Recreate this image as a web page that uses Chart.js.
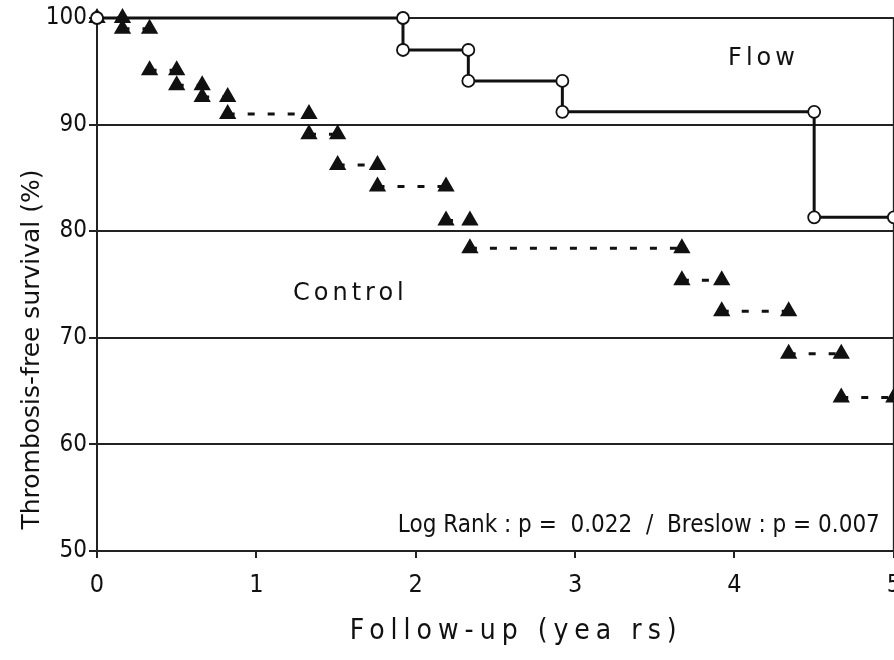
<!DOCTYPE html>
<html>
<head>
<meta charset="utf-8">
<script src="https://cdn.jsdelivr.net/npm/chart.js@4.4.0/dist/chart.umd.min.js"></script>
<style>
html, body { margin: 0; padding: 0; background: #fff; overflow: hidden; }
#caja { width: 913px; height: 660px; }
</style>
</head>
<body>
<div id="caja"><canvas id="grafico"></canvas></div>
<script>
// step vertices (years, % thrombosis-free)
var flowYears = [0, 1.92, 1.92, 2.33, 2.33, 2.92, 2.92, 4.50, 4.50, 5.0];
var flowSurv  = [100, 100, 97.0, 97.0, 94.1, 94.1, 91.2, 91.2, 81.3, 81.3];

var controlYears = [0, 0.16, 0.16, 0.33, 0.33, 0.50, 0.50, 0.66, 0.66, 0.82, 0.82, 1.33, 1.33, 1.51, 1.51,
                    1.76, 1.76, 2.19, 2.19, 2.34, 2.34, 3.67, 3.67, 3.92, 3.92, 4.34, 4.34, 4.67, 4.67, 5.0];
var controlSurv  = [100, 100, 99.0, 99.0, 95.1, 95.1, 93.7, 93.7, 92.6, 92.6, 91.0, 91.0, 89.1, 89.1,
                    86.2, 86.2, 84.2, 84.2, 81.0, 81.0, 78.4, 78.4, 75.4, 75.4, 72.5, 72.5, 68.5, 68.5, 64.4, 64.4];

var yearTicks = [0, 1, 2, 3, 4, 5];
var survTicks = [50, 60, 70, 80, 90, 100];

var tituloX = 'Follow-up (yea rs)';
var tituloY = 'Thrombosis-free survival (%)';
var textoTest = 'Log Rank : p =  0.022  /  Breslow : p = 0.007';

function puntos(xs, ys) {
    return xs.map(function (t, i) { return { x: t, y: ys[i] }; });
}

var fuente = '"DejaVu Sans Condensed", "DejaVu Sans", sans-serif';
var tinta = '#111';

// right frame line + text labels
var notas = {
    id: 'notas',
    beforeDatasetsDraw: function (chart) {
        var a = chart.chartArea, ctx = chart.ctx;
        ctx.save();
        ctx.strokeStyle = '#222';
        ctx.lineWidth = 2;
        ctx.beginPath();
        ctx.moveTo(a.right, a.top);
        ctx.lineTo(a.right, a.bottom);
        ctx.stroke();
        ctx.restore();
    },
    afterDraw: function (chart) {
        var ctx = chart.ctx, x = chart.scales.x, y = chart.scales.y, a = chart.chartArea;
        ctx.save();
        ctx.fillStyle = tinta;
        ctx.textBaseline = 'middle';

        ctx.font = '24px "DejaVu Sans"';
        ctx.letterSpacing = '4px';
        ctx.textAlign = 'left';
        ctx.fillText('Flow', x.getPixelForValue(3.96), y.getPixelForValue(96.15));
        ctx.fillText('Control', x.getPixelForValue(1.23), y.getPixelForValue(74.1));

        ctx.letterSpacing = '0px';
        ctx.font = '24px ' + fuente;
        ctx.textAlign = 'center';
        ctx.fillText(textoTest, x.getPixelForValue(3.40), y.getPixelForValue(52.35));

        ctx.font = '28px ' + fuente;
        ctx.letterSpacing = '6px';
        ctx.fillText(tituloX, x.getPixelForValue(2.63), a.bottom + 81);

        ctx.letterSpacing = '0px';
        ctx.font = '25px "DejaVu Sans"';
        ctx.translate(32, y.getPixelForValue(68.9));
        ctx.rotate(-Math.PI / 2);
        ctx.fillText(tituloY, 0, 0);
        ctx.restore();
    }
};

var ctx = document.getElementById('grafico').getContext('2d');
var grafico = new Chart(ctx, {
    type: 'scatter',
    data: {
        datasets: [{
            label: 'Flow',
            data: puntos(flowYears, flowSurv),
            showLine: true,
            borderColor: tinta,
            borderWidth: 3,
            pointStyle: 'circle',
            pointRadius: 6,
            pointBorderWidth: 1.8,
            pointBackgroundColor: '#fff',
            pointBorderColor: tinta,
            clip: false,
            order: 0
        }, {
            label: 'Control',
            data: puntos(controlYears, controlSurv),
            showLine: true,
            borderColor: tinta,
            borderWidth: 3,
            borderDash: [7, 13],
            pointStyle: 'triangle',
            pointRadius: 7,
            pointBackgroundColor: tinta,
            pointBorderColor: tinta,
            clip: false,
            order: 1,
            segment: {
                // no line on the drops, only the dashed plateaus
                borderColor: function (c) {
                    return c.p0.parsed.x === c.p1.parsed.x ? 'rgba(0,0,0,0)' : undefined;
                }
            }
        }]
    },
    options: {
        responsive: true,
        maintainAspectRatio: false,
        animation: false,
        layout: { padding: { top: 18, right: 0, left: 0, bottom: 0 } },
        plugins: {
            legend: { display: false },
            tooltip: { enabled: false }
        },
        scales: {
            x: {
                type: 'linear',
                min: 0,
                max: 5,
                afterBuildTicks: function (axis) {
                    axis.ticks = yearTicks.map(function (v) { return { value: v }; });
                },
                afterFit: function (axis) { axis.height = 109; },
                ticks: {
                    color: tinta,
                    padding: 12,
                    font: { family: fuente, size: 25 }
                },
                grid: {
                    drawOnChartArea: false,
                    drawTicks: true,
                    tickLength: 7,
                    color: '#222',
                    lineWidth: 2
                },
                border: { display: true, color: '#222', width: 2 }
            },
            y: {
                min: 50,
                max: 100,
                afterBuildTicks: function (axis) {
                    axis.ticks = survTicks.map(function (v) { return { value: v }; });
                },
                afterFit: function (axis) { axis.width = 97; },
                ticks: {
                    color: tinta,
                    padding: 2,
                    font: { family: fuente, size: 24 }
                },
                grid: {
                    color: '#222',
                    lineWidth: 2,
                    drawTicks: true,
                    tickLength: 8
                },
                border: { display: true, color: '#222', width: 2 }
            }
        }
    },
    plugins: [notas]
});
</script>
</body>
</html>
